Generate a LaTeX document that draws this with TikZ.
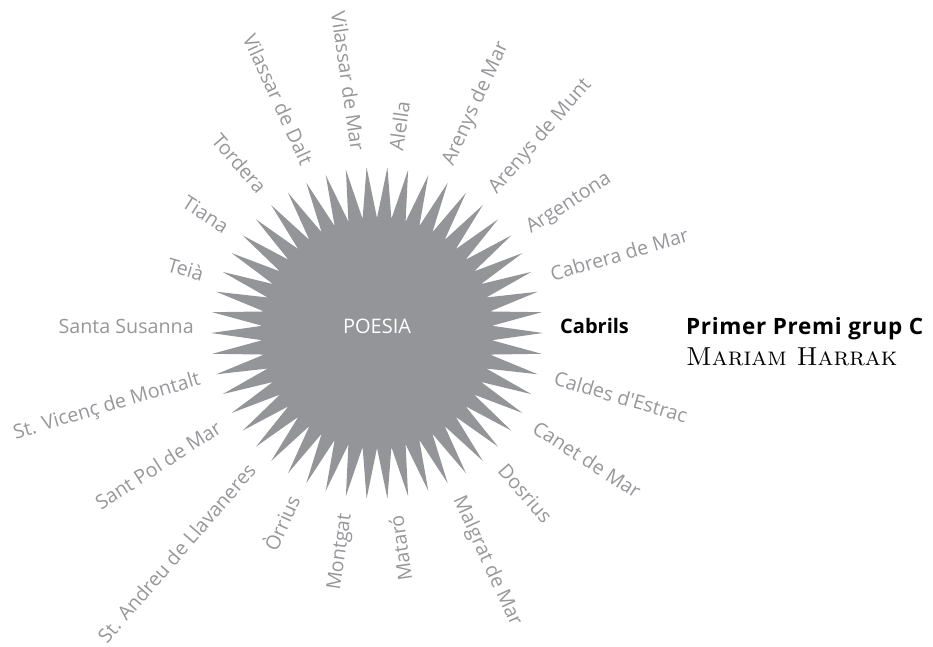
\documentclass[tikz,border=0pt]{standalone}
\usepackage{fontspec}
\newfontfamily\labfont{Open Sans}
\newfontfamily\prizefont[LetterSpace=3]{Open Sans}
\usetikzlibrary{calc}
\definecolor{stargrey}{RGB}{147,149,152}
\definecolor{labgrey}{RGB}{150,151,155}
\begin{document}
\begin{tikzpicture}[x=1pt,y=-1pt,
  lab/.style={font=\labfont\fontsize{19.7}{20}\selectfont, text=labgrey, inner sep=0pt},
  outlab/.style={lab, anchor=base west, rotate=#1},
  inlab/.style={lab, anchor=base east, rotate=#1+180},
  hilab/.style={font=\labfont\bfseries\fontsize{20}{20}\selectfont, text=black, inner sep=0pt, anchor=base west},
  prize/.style={font=\prizefont\bfseries\fontsize{22.5}{22}\selectfont, text=black, inner sep=0pt, anchor=base west},
  author/.style={font=\rmfamily\scshape\fontsize{26}{26}\selectfont\addfontfeature{LetterSpace=8}, text=black, inner sep=0pt, anchor=base west},
  core/.style={font=\labfont\fontsize{20}{20}\selectfont, text=white, inner sep=0pt, anchor=base}]
\useasboundingbox (0,0) rectangle (933,646);
\coordinate (C) at (377,333);
\begin{scope}[shift={(C)}]
\fill[stargrey] (0:166pt) \foreach \i in {0,...,49} { -- ({\i*7.2+3.6}:115pt) -- ({\i*7.2+7.2}:166pt) } -- cycle;
\end{scope}
\node[core] (poesia) at (377,333.5) {POESIA};
\def\rr{183pt}
\node[hilab] (cabrils) at ($(C)+(0:\rr)$) {Cabrils};
\node[outlab=-16.36] (caldes) at ($(C)+(-16.36:\rr)$) {Caldes d'Estrac};
\node[outlab=-32.73] (canet) at ($(C)+(-32.73:\rr)$) {Canet de Mar};
\node[outlab=-49.09] (dosrius) at ($(C)+(-49.09:\rr)$) {Dosrius};
\node[outlab=-65.45] (malgrat) at ($(C)+(-65.45:\rr)$) {Malgrat de Mar};
\node[inlab=-81.82] (mataro) at ($(C)+(-81.82:\rr)$) {Mataró};
\node[inlab=-98.18] (montgat) at ($(C)+(-98.18:\rr)$) {Montgat};
\node[inlab=-114.55] (orrius) at ($(C)+(-114.55:\rr)$) {Òrrius};
\node[inlab=-130.91] (andreu) at ($(C)+(-130.91:\rr)$) {St. Andreu de Llavaneres};
\node[inlab=-147.27] (santpol) at ($(C)+(-147.27:\rr)$) {Sant Pol de Mar};
\node[inlab=-163.64] (vicenc) at ($(C)+(-163.64:\rr)$) {St. Vicenç de Montalt};
\node[inlab=-180] (susanna) at ($(C)+(-180:\rr)$) {Santa Susanna};
\node[inlab=-196.36] (teia) at ($(C)+(-196.36:\rr)$) {Teià};
\node[inlab=-212.73] (tiana) at ($(C)+(-212.73:\rr)$) {Tiana};
\node[inlab=-229.09] (tordera) at ($(C)+(-229.09:\rr)$) {Tordera};
\node[inlab=-245.45] (vdalt) at ($(C)+(-245.45:\rr)$) {Vilassar de Dalt};
\node[inlab=-261.82] (vmar) at ($(C)+(-261.82:\rr)$) {Vilassar de Mar};
\node[outlab=81.82] (alella) at ($(C)+(81.82:\rr)$) {Alella};
\node[outlab=65.45] (amar) at ($(C)+(65.45:\rr)$) {Arenys de Mar};
\node[outlab=49.09] (amunt) at ($(C)+(49.09:\rr)$) {Arenys de Munt};
\node[outlab=32.73] (argentona) at ($(C)+(32.73:\rr)$) {Argentona};
\node[outlab=16.36] (cabrera) at ($(C)+(16.36:\rr)$) {Cabrera de Mar};
\node[prize] (premi) at (686,334) {Primer Premi grup C};
\node[author] (autor) at (686,365) {Mariam Harrak};
\end{tikzpicture}
\end{document}
